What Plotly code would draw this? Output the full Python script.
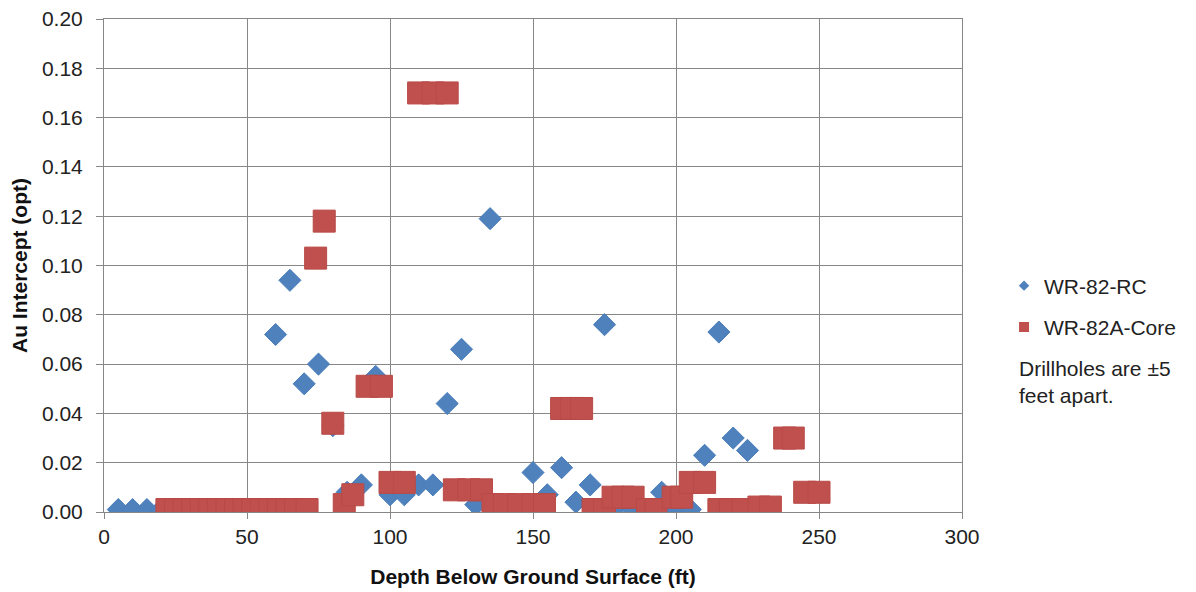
import plotly.graph_objects as go

# WR-82-RC (blue diamonds)
rc_depth = [5, 10, 15, 20, 25, 30, 35, 40, 45, 50, 55, 60, 65, 70, 75, 80, 85, 90, 95,
            100, 105, 110, 115, 120, 125, 130, 135, 140, 145, 150, 155, 160, 165, 170,
            175, 180, 185, 190, 195, 200, 205, 210, 215, 220, 225]
rc_au = [0.001, 0.001, 0.001, 0.001, 0.001, 0.001, 0.001, 0.001, 0.001, 0.001, 0.001,
         0.072, 0.094, 0.052, 0.060, 0.035, 0.008, 0.011, 0.055,
         0.007, 0.007, 0.011, 0.011, 0.044, 0.066, 0.003, 0.119, 0.002, 0.002, 0.016,
         0.007, 0.018, 0.004, 0.011, 0.076, 0.003, 0.001, 0.001, 0.008, 0.001, 0.001,
         0.023, 0.073, 0.030, 0.025]

# WR-82A-Core (red squares)
core_depth = [22, 25, 28, 31, 34, 37, 40, 43, 46, 49, 52, 55, 58, 61, 64, 67, 71,
              74, 77, 80, 84, 87, 92, 97, 100, 105, 110, 115, 120, 122.5, 127.5, 132,
              136, 140, 145, 150, 154, 160, 163.5, 167, 171, 175, 178, 181.5, 185,
              190, 193, 199, 202, 205, 210, 215, 219, 223.5, 229, 233, 238, 241, 245, 250]
core_au = [0.001] * 17 + [
    0.103, 0.118, 0.036, 0.003, 0.007, 0.051, 0.051, 0.012, 0.012, 0.170, 0.170, 0.170,
    0.009, 0.009, 0.009, 0.003, 0.003, 0.003, 0.003, 0.003, 0.042, 0.042, 0.042,
    0.001, 0.001, 0.006, 0.006, 0.006, 0.001, 0.001, 0.006, 0.006, 0.012, 0.012,
    0.001, 0.001, 0.001, 0.002, 0.002, 0.030, 0.030, 0.008, 0.008]

x_ticks = [0, 50, 100, 150, 200, 250, 300]
y_ticks = [0.00, 0.02, 0.04, 0.06, 0.08, 0.10, 0.12, 0.14, 0.16, 0.18, 0.20]

FONT = "Liberation Sans, Arial, sans-serif"
GRID = "#878787"
BLUE, BLUE_EDGE = "#4F81BD", "#4A7EBB"
RED, RED_EDGE = "#C0504D", "#B84A47"

fig = go.Figure()
fig.add_trace(go.Scatter(
    x=rc_depth, y=rc_au, mode="markers", name="WR-82-RC", legendgroup="a",
    showlegend=False,
    marker=dict(symbol="diamond", size=17, color=BLUE,
                line=dict(color=BLUE_EDGE, width=1)),
))
fig.add_trace(go.Scatter(
    x=core_depth, y=core_au, mode="markers", name="WR-82A-Core", legendgroup="b",
    showlegend=False,
    marker=dict(symbol="square", size=22, color=RED,
                line=dict(color=RED_EDGE, width=1)),
))
# legend entries with the small legend symbols of the reference
fig.add_trace(go.Scatter(
    x=[None], y=[None], mode="markers", name="WR-82-RC", legendgroup="a",
    marker=dict(symbol="diamond", size=8, color=BLUE),
))
fig.add_trace(go.Scatter(
    x=[None], y=[None], mode="markers", name="WR-82A-Core", legendgroup="b",
    marker=dict(symbol="square", size=10, color=RED),
))

fig.update_layout(
    width=1196, height=592,
    margin=dict(l=96, r=242, t=11, b=88),
    paper_bgcolor="white", plot_bgcolor="white",
    font=dict(family=FONT, size=21, color="#222222"),
    showlegend=True,
    legend=dict(x=1.049, y=0.500, xanchor="left", yanchor="top",
                font=dict(family=FONT, size=21, color="#222222"),
                tracegroupgap=11, itemwidth=30, bgcolor="rgba(0,0,0,0)"),
    annotations=[dict(
        text="Drillholes are ±5<br>feet apart.", xref="paper", yref="paper",
        x=1.064, y=0.318, xanchor="left", yanchor="top", align="left",
        showarrow=False, font=dict(family=FONT, size=21, color="#222222"))],
)
fig.update_xaxes(
    range=[0, 300], tickvals=x_ticks, ticktext=[str(v) for v in x_ticks],
    showgrid=True, gridcolor=GRID, gridwidth=1,
    showline=True, linecolor=GRID, linewidth=1, mirror=True,
    ticks="outside", ticklen=6, tickcolor=GRID, zeroline=False,
    automargin=False, ticklabeloverflow="allow",
    tickfont=dict(family=FONT, size=21, color="#222222"),
    title=dict(text="<b>Depth Below Ground Surface (ft)</b>", standoff=22,
               font=dict(family=FONT, size=21, color="#111111")),
)
fig.update_yaxes(
    range=[0, 0.20], tickvals=y_ticks, ticktext=[f"{v:.2f}" for v in y_ticks],
    showgrid=True, gridcolor=GRID, gridwidth=1,
    showline=True, linecolor=GRID, linewidth=1, mirror=True,
    ticks="outside", ticklen=7, tickcolor=GRID, zeroline=False,
    automargin=False, ticklabelstandoff=9, ticklabeloverflow="allow",
    tickfont=dict(family=FONT, size=21, color="#222222"),
    title=dict(text="<b>Au Intercept (opt)</b>", standoff=13,
               font=dict(family=FONT, size=21, color="#111111")),
)

fig.write_html("out.html")
